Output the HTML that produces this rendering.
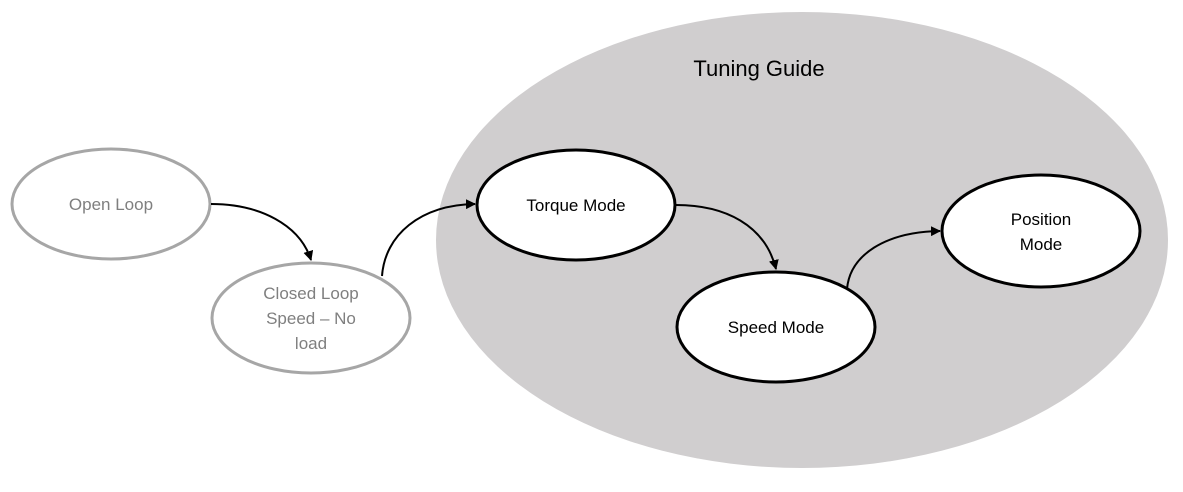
<!DOCTYPE html>
<html><head><meta charset="utf-8"><style>
html,body{margin:0;padding:0;background:#fff;}
svg{display:block;}
text{font-family:"Liberation Sans",sans-serif;}
</style></head><body>
<svg width="1183" height="492" viewBox="0 0 1183 492" xmlns="http://www.w3.org/2000/svg">
<defs>
<marker id="a" markerWidth="10" markerHeight="10" refX="9" refY="5" orient="auto" markerUnits="userSpaceOnUse">
<path d="M0,0 L10,5 L0,10 z" fill="#000"/>
</marker>
</defs>
<ellipse cx="802" cy="240" rx="366" ry="228" fill="#d0cecf"/>
<text x="759" y="76" font-size="22" text-anchor="middle" fill="#000">Tuning Guide</text>

<ellipse cx="111" cy="204" rx="99" ry="55" fill="#fff" stroke="#a6a6a6" stroke-width="3"/>
<text x="111" y="210" font-size="17" text-anchor="middle" fill="#7f7f7f">Open Loop</text>

<ellipse cx="311" cy="318" rx="99" ry="55" fill="#fff" stroke="#a6a6a6" stroke-width="3"/>
<text x="311" y="299" font-size="17" text-anchor="middle" fill="#7f7f7f">Closed Loop</text>
<text x="311" y="324" font-size="17" text-anchor="middle" fill="#7f7f7f">Speed – No</text>
<text x="311" y="349" font-size="17" text-anchor="middle" fill="#7f7f7f">load</text>

<ellipse cx="576" cy="205" rx="99" ry="55" fill="#fff" stroke="#000" stroke-width="3"/>
<text x="576" y="211" font-size="17" text-anchor="middle">Torque Mode</text>

<ellipse cx="776" cy="327" rx="99" ry="55" fill="#fff" stroke="#000" stroke-width="3"/>
<text x="776" y="333" font-size="17" text-anchor="middle">Speed Mode</text>

<ellipse cx="1041" cy="231" rx="99" ry="56" fill="#fff" stroke="#000" stroke-width="3"/>
<text x="1041" y="225" font-size="17" text-anchor="middle">Position</text>
<text x="1041" y="250" font-size="17" text-anchor="middle">Mode</text>

<g fill="none" stroke="#000" stroke-width="2">
<path d="M211,204 C260,204 300,225 311,260" marker-end="url(#a)"/>
<path d="M382,276 C385,235 420,205 475,204" marker-end="url(#a)"/>
<path d="M676,205 C725,205 765,225 776,269" marker-end="url(#a)"/>
<path d="M847,289 C850,255 885,232 940,231" marker-end="url(#a)"/>
</g>
</svg>
</body></html>
